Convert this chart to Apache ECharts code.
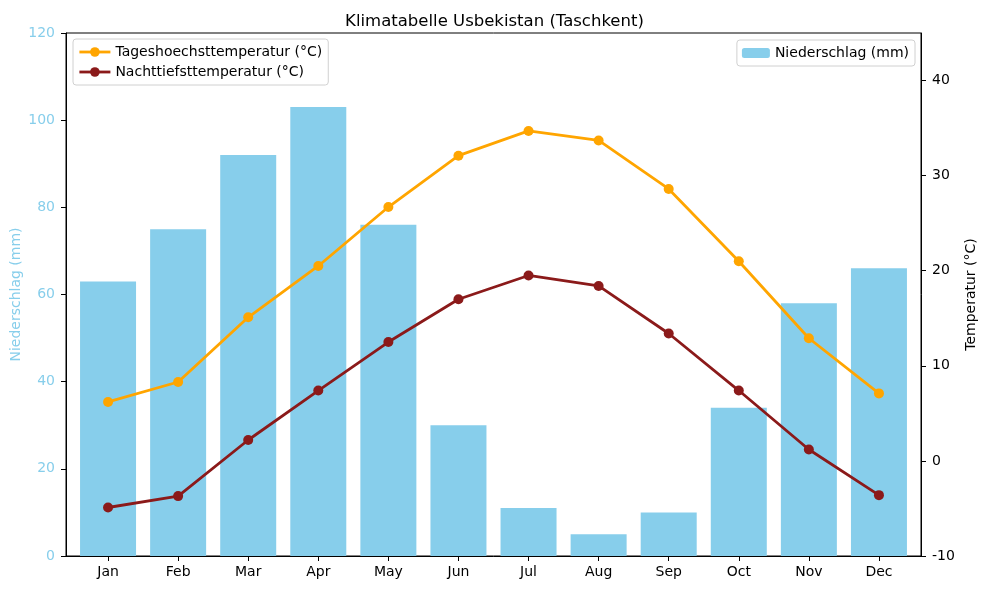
<!DOCTYPE html>
<html>
<head>
<meta charset="utf-8">
<script src="https://cdn.jsdelivr.net/npm/echarts@6/dist/echarts.min.js"></script>
<style>
  html, body { margin: 0; padding: 0; background: #fff; }
  #chart { width: 989px; height: 590px; }
</style>
</head>
<body>
<div id="chart"></div>
<script>
let months = ['Jan', 'Feb', 'Mar', 'Apr', 'May', 'Jun', 'Jul', 'Aug', 'Sep', 'Oct', 'Nov', 'Dec'];
let niederschlag = [63, 75, 92, 103, 76, 30, 11, 5, 10, 34, 58, 66];
let hoechst = [6.2, 8.3, 15.1, 20.5, 26.7, 32.1, 34.7, 33.7, 28.6, 21.0, 12.9, 7.1];
let tiefst = [-4.9, -3.7, 2.2, 7.4, 12.5, 17.0, 19.5, 18.4, 13.4, 7.4, 1.2, -3.6];
let leftTicks = [0, 20, 40, 60, 80, 100, 120];
let rightTicks = [-10, 0, 10, 20, 30, 40];

let font = 'DejaVu Sans';
let idx = months.map((m, i) => i);
let pairs = arr => arr.map((v, i) => [i, v]);

let myChart = echarts.init(document.getElementById('chart'));
let option = {
  animation: false,
  textStyle: { fontFamily: font },
  title: {
    text: 'Klimatabelle Usbekistan (Taschkent)',
    left: 'center',
    top: 8,
    textStyle: { fontFamily: font, fontSize: 16.5, fontWeight: 'normal', color: '#000' }
  },
  grid: {
    left: 66, right: 68, top: 33, bottom: 34,
    outerBoundsMode: 'none',
    containLabel: false,
    show: true, borderColor: '#000', borderWidth: 1, backgroundColor: 'transparent'
  },
  legend: [
    {
      data: ['Tageshoechsttemperatur (°C)', 'Nachttiefsttemperatur (°C)'],
      orient: 'vertical',
      left: 73, top: 39,
      itemWidth: 31, itemHeight: 12, itemGap: 6,
      padding: [6, 6, 6, 5],
      lineStyle: { width: 2.8 },
      borderColor: '#d0d0d0', borderWidth: 1, borderRadius: 3,
      textStyle: { fontFamily: font, fontSize: 14, color: '#000' }
    },
    {
      data: ['Niederschlag (mm)'],
      right: 74, top: 40,
      itemWidth: 28, itemHeight: 10,
      padding: [6, 6, 6, 5],
      borderColor: '#d0d0d0', borderWidth: 1, borderRadius: 3,
      textStyle: { fontFamily: font, fontSize: 14, color: '#000' }
    }
  ],
  xAxis: {
    type: 'value',
    min: -0.6, max: 11.6,
    splitLine: { show: false },
    axisLine: { show: true, onZero: false, lineStyle: { color: '#000' } },
    axisTick: { show: true, length: 5, customValues: idx, lineStyle: { color: '#000' } },
    axisLabel: {
      customValues: idx,
      formatter: v => months[Math.round(v)],
      color: '#000', fontSize: 14, fontFamily: font, margin: 9
    }
  },
  yAxis: [
    {
      type: 'value',
      min: 0, max: 120, interval: 20,
      name: 'Niederschlag (mm)',
      nameLocation: 'middle', nameGap: 43, nameMoveOverlap: false,
      nameTextStyle: { color: '#87CEEB', fontSize: 14, fontFamily: font },
      splitLine: { show: false },
      axisLine: { show: true, onZero: false, lineStyle: { color: '#000' } },
      axisTick: { show: true, length: 5, customValues: leftTicks, lineStyle: { color: '#000' } },
      axisLabel: { customValues: leftTicks, color: '#87CEEB', fontSize: 14, fontFamily: font, margin: 11 }
    },
    {
      type: 'value',
      min: -10, max: 45, interval: 10,
      name: 'Temperatur (°C)',
      nameLocation: 'middle', nameGap: 43, nameRotate: 90, nameMoveOverlap: false,
      nameTextStyle: { color: '#000', fontSize: 14, fontFamily: font },
      splitLine: { show: false },
      axisLine: { show: true, onZero: false, lineStyle: { color: '#000' } },
      axisTick: { show: true, length: 5, customValues: rightTicks, lineStyle: { color: '#000' } },
      axisLabel: { customValues: rightTicks, color: '#000', fontSize: 14, fontFamily: font, margin: 11 }
    }
  ],
  series: [
    {
      name: 'Niederschlag (mm)',
      type: 'bar',
      yAxisIndex: 0,
      barWidth: 56,
      itemStyle: { color: '#87CEEB' },
      data: pairs(niederschlag)
    },
    {
      name: 'Tageshoechsttemperatur (°C)',
      type: 'line',
      yAxisIndex: 1,
      symbol: 'circle', symbolSize: 10,
      lineStyle: { width: 2.8, color: '#FFA500' },
      itemStyle: { color: '#FFA500' },
      data: pairs(hoechst)
    },
    {
      name: 'Nachttiefsttemperatur (°C)',
      type: 'line',
      yAxisIndex: 1,
      symbol: 'circle', symbolSize: 10,
      lineStyle: { width: 2.8, color: '#8B1A1A' },
      itemStyle: { color: '#8B1A1A' },
      data: pairs(tiefst)
    }
  ]
};
myChart.setOption(option);
</script>
</body>
</html>
